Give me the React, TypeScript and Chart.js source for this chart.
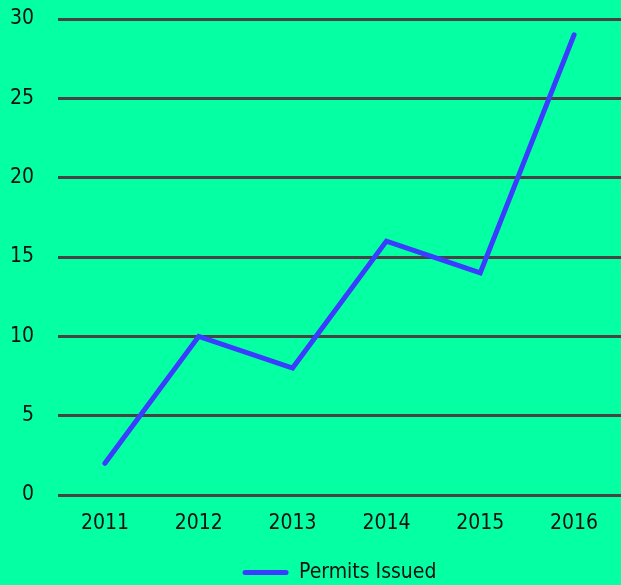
import React, { useEffect, useRef } from "react";
import { Chart, registerables } from "chart.js";

Chart.register(...registerables);

const categories = ["2011", "2012", "2013", "2014", "2015", "2016"];
const permitsIssued = [2, 10, 8, 16, 14, 29];
const seriesLabel = "Permits Issued";
const yMin = 0;
const yMax = 30;
const yStep = 5;

const BG = "#05FFA3";
const LINE = "#3A3CFF";
const GRID = "#444444";
const TEXT = "#111111";
const FONT = "'Liberation Sans Narrow', 'DejaVu Sans Condensed', sans-serif";

export default function App() {
  const ref = useRef<HTMLCanvasElement | null>(null);

  useEffect(() => {
    document.body.style.margin = "0";
    document.body.style.background = BG;
    const canvas = ref.current;
    if (!canvas) return;
    const chart = new Chart(canvas, {
      type: "line",
      data: {
        labels: categories,
        datasets: [
          {
            label: seriesLabel,
            data: permitsIssued,
            borderColor: LINE,
            backgroundColor: LINE,
            borderWidth: 5,
            borderCapStyle: "round",
            pointRadius: 0,
            pointHoverRadius: 0,
            tension: 0,
            fill: false,
          },
        ],
      },
      options: {
        responsive: false,
        animation: false,
        layout: { padding: { top: 19, left: 0, right: 0, bottom: -8 } },
        plugins: {
          tooltip: { enabled: false },
          legend: {
            position: "bottom",
            fullSize: false,
            labels: {
              color: TEXT,
              font: { family: FONT, size: 21 },
              boxWidth: 46,
              boxHeight: 5,
              padding: 10,
              useBorderRadius: true,
              borderRadius: 2.5,
              generateLabels: (c: any) => {
                const items = Chart.defaults.plugins.legend.labels.generateLabels(c);
                return items.map((it: any) => ({ ...it, lineWidth: 0, fillStyle: LINE, strokeStyle: LINE }));
              },
            },
          },
        },
        scales: {
          x: {
            offset: true,
            grid: { display: false, drawTicks: false, offset: true },
            border: { display: false },
            ticks: { color: TEXT, font: { family: FONT, size: 21 }, padding: 16 },
            afterFit: (scale: any) => {
              scale.height = 57;
            },
          },
          y: {
            min: yMin,
            max: yMax,
            grid: { color: GRID, lineWidth: 3, drawTicks: false },
            border: { display: false },
            ticks: {
              stepSize: yStep,
              color: TEXT,
              font: { family: FONT, size: 21 },
              padding: 24,
            },
            afterFit: (scale: any) => {
              scale.width = 58;
              scale.paddingTop = 10;
              scale.paddingBottom = 10;
            },
          },
        },
      },
    });
    return () => chart.destroy();
  }, []);

  return (
    <div style={{ width: 621, height: 585, background: BG }}>
      <canvas ref={ref} width={621} height={585} style={{ display: "block" }} />
    </div>
  );
}
